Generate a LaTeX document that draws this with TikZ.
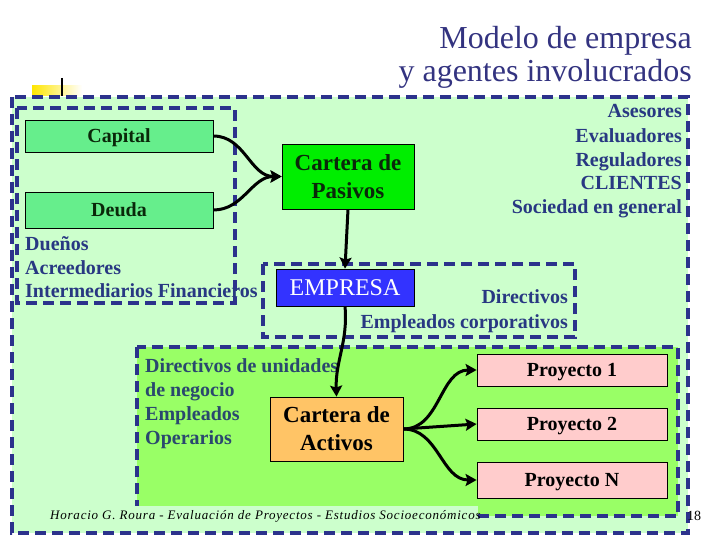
\documentclass[tikz,border=0pt]{standalone}
\usepackage{fontspec}
\setmainfont{Liberation Serif}
\usetikzlibrary{arrows.meta}
\definecolor{navy}{RGB}{44,50,140}
\definecolor{lightg}{RGB}{204,255,204}
\definecolor{brightg}{RGB}{153,255,102}
\definecolor{boxg}{RGB}{102,238,140}
\definecolor{pasg}{RGB}{0,238,0}
\definecolor{empb}{RGB}{51,51,255}
\definecolor{actor}{RGB}{255,196,102}
\definecolor{proy}{RGB}{255,204,204}
\definecolor{listc}{RGB}{40,56,130}
\definecolor{listd}{RGB}{42,72,110}
\definecolor{titc}{RGB}{51,51,128}
\definecolor{darkt}{RGB}{10,40,10}
\tikzset{
  dashbox/.style={draw=navy,line width=4pt,dash pattern=on 11pt off 6pt},
  plainbox/.style={draw=black,line width=0.8pt,inner sep=0pt,align=center},
  lst/.style={font=\fontsize{20}{24}\selectfont\bfseries,text=listc,inner sep=0pt},
  lstd/.style={font=\fontsize{20}{24}\selectfont\bfseries,text=listd,inner sep=0pt},
  conn/.style={draw=black,line width=3pt,-{Stealth[length=11pt,width=12pt,inset=2pt]}},
  bigtxt/.style={font=\fontsize{23}{28}\selectfont\bfseries},
  boxtxt/.style={font=\fontsize{20}{24}\selectfont\bfseries,text height=16pt,text depth=3pt},
}
\begin{document}
\begin{tikzpicture}[x=1pt,y=-1pt]
\useasboundingbox (0,0) rectangle (720,540);
% title
\node[anchor=base east,inner sep=0pt,text=titc,font=\fontsize{32}{36}\selectfont] (t1) at (692,49) {Modelo de empresa};
\node[anchor=base east,inner sep=0pt,text=titc,font=\fontsize{32}{36}\selectfont] (t2) at (692,82) {y agentes involucrados};
% yellow marker
\shade[left color=yellow!80!orange,right color=white] (32,86) rectangle (82,96);
\draw[black,line width=1.5pt] (62,78) -- (62,96);
% outer box
\fill[lightg] (12,97) rectangle (688,533);
% bottom green box
\fill[brightg] (137,347) rectangle (678,516);
\draw[dashbox] (137,347) rectangle (678,516);
\draw[dashbox] (12,97) rectangle (688,533);
% left inner box
\draw[dashbox] (17,108) rectangle (235,303);
% empresa box
\draw[dashbox] (263,264) rectangle (575,337);
% nodes
\node[plainbox,fill=boxg,minimum width=188pt,minimum height=32pt,boxtxt,text=darkt] (cap) at (119,136) {Capital};
\node[plainbox,fill=boxg,minimum width=188pt,minimum height=36pt,boxtxt,text=darkt] (deu) at (119,210) {Deuda};
\node[plainbox,fill=pasg,minimum width=132pt,minimum height=65pt,bigtxt,text=darkt] (pas) at (348,176.5) {Cartera de\\Pasivos};
\node[plainbox,fill=empb,minimum width=138pt,minimum height=37pt,text=white,font=\fontsize{24}{28}\selectfont] (emp) at (345,287.5) {EMPRESA};
\node[plainbox,fill=actor,minimum width=133pt,minimum height=64pt,bigtxt,text=black] (act) at (336.5,429) {Cartera de\\Activos};
\node[plainbox,fill=proy,minimum width=190pt,minimum height=32pt,boxtxt] (p1) at (572,370) {Proyecto 1};
\node[plainbox,fill=proy,minimum width=190pt,minimum height=32pt,boxtxt] (p2) at (572,424) {Proyecto 2};
\node[plainbox,fill=proy,minimum width=190pt,minimum height=36pt,boxtxt] (pn) at (572,480) {Proyecto N};
% lists
\node[lst,anchor=base west] (l1) at (25,250) {Dueños};
\node[lst,anchor=base west] (l2) at (25,274) {Acreedores};
\node[lst,anchor=base west] (l3) at (25,297) {Intermediarios Financieros};
\node[lst,anchor=base east] (r1) at (682,118) {Asesores};
\node[lst,anchor=base east] (r2) at (682,143) {Evaluadores};
\node[lst,anchor=base east] (r3) at (682,167) {Reguladores};
\node[lst,anchor=base east] (r4) at (682,190) {CLIENTES};
\node[lst,anchor=base east] (r5) at (682,214) {Sociedad en general};
\node[lst,anchor=base east] (e1) at (568,303) {Directivos};
\node[lst,anchor=base east] (e2) at (568,328) {Empleados corporativos};
\node[lstd,anchor=base west] (b1) at (145,372) {Directivos de unidades};
\node[lstd,anchor=base west] (b2) at (145,396) {de negocio};
\node[lstd,anchor=base west] (b3) at (145,420) {Empleados};
\node[lstd,anchor=base west] (b4) at (145,444) {Operarios};
% connectors
\draw[conn] (cap.east) to[out=0,in=180] (pas.west);
\draw[conn] (deu.east) to[out=0,in=180] (pas.west);
\draw[conn] (pas.south) -- (emp.north);
\draw[conn] (emp.south) to[out=-85,in=92] (act.north);
\draw[conn] (act.east) to[out=0,in=180] (p1.west);
\draw[conn] (act.east) -- (p2.west);
\draw[conn] (act.east) to[out=0,in=180] (pn.west);
% footer
\fill[lightg] (45,506) rectangle (478,528);
\node[anchor=base west,inner sep=0pt,font=\fontsize{13}{15}\selectfont\itshape] (ft) at (50,519) {\addfontfeatures{LetterSpace=6}Horacio G. Roura - Evaluación de Proyectos - Estudios Socioeconómicos};
\node[anchor=base,inner sep=0pt,font=\fontsize{14}{16}\selectfont] (pg) at (694,520) {18};
\end{tikzpicture}
\end{document}
